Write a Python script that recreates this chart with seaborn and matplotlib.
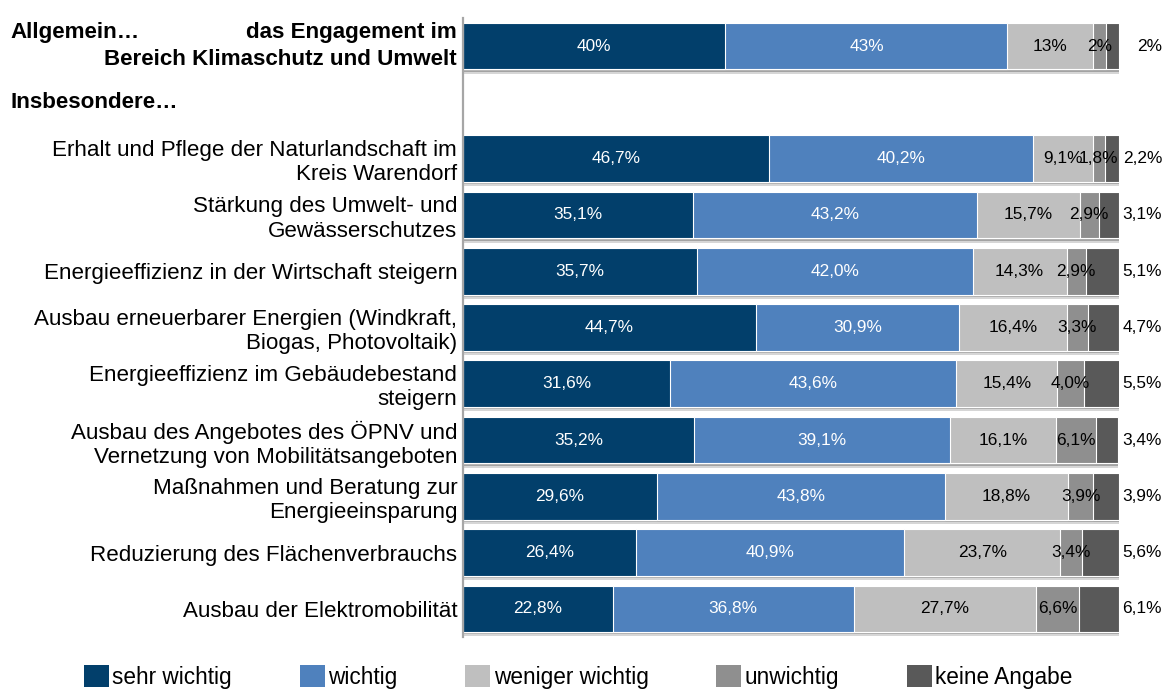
import numpy as np
import pandas as pd
import matplotlib
matplotlib.use("Agg")
import matplotlib.pyplot as plt
from matplotlib.patches import Patch
from matplotlib.transforms import blended_transform_factory
import seaborn as sns

sns.set_style("white")
plt.rcParams["font.family"] = ["Liberation Sans", "DejaVu Sans"]
plt.rcParams["text.color"] = "black"
plt.rcParams["ytick.color"] = "black"
plt.rcParams["ytick.labelcolor"] = "black"

# --- data -------------------------------------------------------------------
summary_label = "das Engagement im\nBereich Klimaschutz und Umwelt"
gap_label = " "
items = [
    "Erhalt und Pflege der Naturlandschaft im\nKreis Warendorf",
    "Stärkung des Umwelt- und\nGewässerschutzes",
    "Energieeffizienz in der Wirtschaft steigern",
    "Ausbau erneuerbarer Energien (Windkraft,\nBiogas, Photovoltaik)",
    "Energieeffizienz im Gebäudebestand\nsteigern",
    "Ausbau des Angebotes des ÖPNV und\nVernetzung von Mobilitätsangeboten",
    "Maßnahmen und Beratung zur\nEnergieeinsparung",
    "Reduzierung des Flächenverbrauchs",
    "Ausbau der Elektromobilität",
]
rows = [summary_label] + items
order = [summary_label, gap_label] + items

series_names = ["sehr wichtig", "wichtig", "weniger wichtig", "unwichtig", "keine Angabe"]
sehr_wichtig = [40, 46.7, 35.1, 35.7, 44.7, 31.6, 35.2, 29.6, 26.4, 22.8]
wichtig = [43, 40.2, 43.2, 42.0, 30.9, 43.6, 39.1, 43.8, 40.9, 36.8]
weniger_wichtig = [13, 9.1, 15.7, 14.3, 16.4, 15.4, 16.1, 18.8, 23.7, 27.7]
unwichtig = [2, 1.8, 2.9, 2.9, 3.3, 4.0, 6.1, 3.9, 3.4, 6.6]
keine_angabe = [2, 2.2, 3.1, 5.1, 4.7, 5.5, 3.4, 3.9, 5.6, 6.1]

colors = ["#023F6B", "#4F81BD", "#BFBFBF", "#8F8F8F", "#595959"]
label_colors = ["white", "white", "black", "black", "black"]

values = np.array([sehr_wichtig, wichtig, weniger_wichtig, unwichtig, keine_angabe])
cum = np.cumsum(values, axis=0)
starts = cum - values

df = pd.DataFrame({"kategorie": rows})
for k in range(len(series_names)):
    df[f"cum{k}"] = cum[k]

# --- figure -----------------------------------------------------------------
fig = plt.figure(figsize=(11.63, 6.89), dpi=100)
ax = fig.add_axes([463 / 1163, 1 - 637 / 689, 656 / 1163, 619 / 689])

bar_h = 0.83
for k in reversed(range(len(series_names))):
    sns.barplot(data=df, x=f"cum{k}", y="kategorie", order=order, orient="h",
                color=colors[k], width=bar_h, edgecolor="white", linewidth=0.8,
                saturation=1, errorbar=None, ax=ax, zorder=2)

# soft drop shadow under each bar
pos = np.array([order.index(r) for r in rows])
totals = cum[-1]
ax.barh(pos + 0.075, totals, height=bar_h, color="#d6d6d6", zorder=1, linewidth=0)
ax.barh(pos + 0.04, totals, height=bar_h, color="#a3a3a3", zorder=1.2, linewidth=0)

ax.set_xlim(0, 100)
ax.set_ylim(10.5, -0.5)
ax.set_xlabel("")
ax.set_ylabel("")
ax.set_xticks([])

# axis styling: ticks at category boundaries
for side in ["top", "right", "bottom"]:
    ax.spines[side].set_visible(False)
ax.spines["left"].set_color("#a6a6a6")
ax.spines["left"].set_linewidth(1.6)
ax.set_yticks(np.arange(-0.5, 11, 1), minor=True)
ax.tick_params(axis="y", which="minor", length=4, width=1, color="#a6a6a6")
ax.tick_params(axis="y", which="major", length=0, pad=4.2, labelsize=16.1,
               labelcolor="black")
# the summary row and the gap row get their own headings instead of tick labels
ticklabels = ax.get_yticklabels()
ticklabels[0].set_text("")
ticklabels[1].set_text("")
ax.set_yticklabels(ticklabels)

left_tr = blended_transform_factory(fig.transFigure, ax.transData)
y_sum = order.index(summary_label)
half_line = 9.7  # points: half of the label line spacing
for line, dy in zip(summary_label.split("\n"), (half_line, -half_line)):
    ax.annotate(line, xy=(457 / 1163, y_sum), xycoords=left_tr,
                xytext=(0, dy), textcoords="offset points", ha="right", va="center",
                fontsize=16.1, fontweight="bold")
ax.annotate("Allgemein…", xy=(10 / 1163, y_sum), xycoords=left_tr,
            xytext=(0, half_line), textcoords="offset points", ha="left", va="center",
            fontsize=16.1, fontweight="bold")
ax.text(10 / 1163, order.index(gap_label), "Insbesondere…", ha="left", va="center",
        fontsize=16.1, fontweight="bold", transform=left_tr)

# value labels inside the bars
for i, r in enumerate(rows):
    y = pos[i]
    for k in range(len(series_names) - 1):
        v = values[k, i]
        txt = f"{v:.0f}%" if i == 0 else f"{v:.1f}%".replace(".", ",")
        ax.text(starts[k, i] + v / 2, y, txt, ha="center", va="center",
                color=label_colors[k], fontsize=12.4, zorder=5)

# "keine Angabe" values to the right of the bars
for i, r in enumerate(rows):
    v = values[-1, i]
    txt = f"{v:.0f}%" if i == 0 else f"{v:.1f}%".replace(".", ",")
    ax.text(1162 / 1163, pos[i], txt, ha="right", va="center", fontsize=12.4,
            transform=left_tr)

# legend
handles = [Patch(facecolor=c, edgecolor="none") for c in colors]
fig.legend(handles, series_names, loc="upper left", ncol=5,
           bbox_to_anchor=(84 / 1163, 1 - 665 / 689), frameon=False,
           fontsize=16.3, handlelength=1.1, handleheight=1.1,
           handletextpad=0.15, columnspacing=3.0, borderpad=0, borderaxespad=0)

fig.savefig("out.png", dpi=100)
